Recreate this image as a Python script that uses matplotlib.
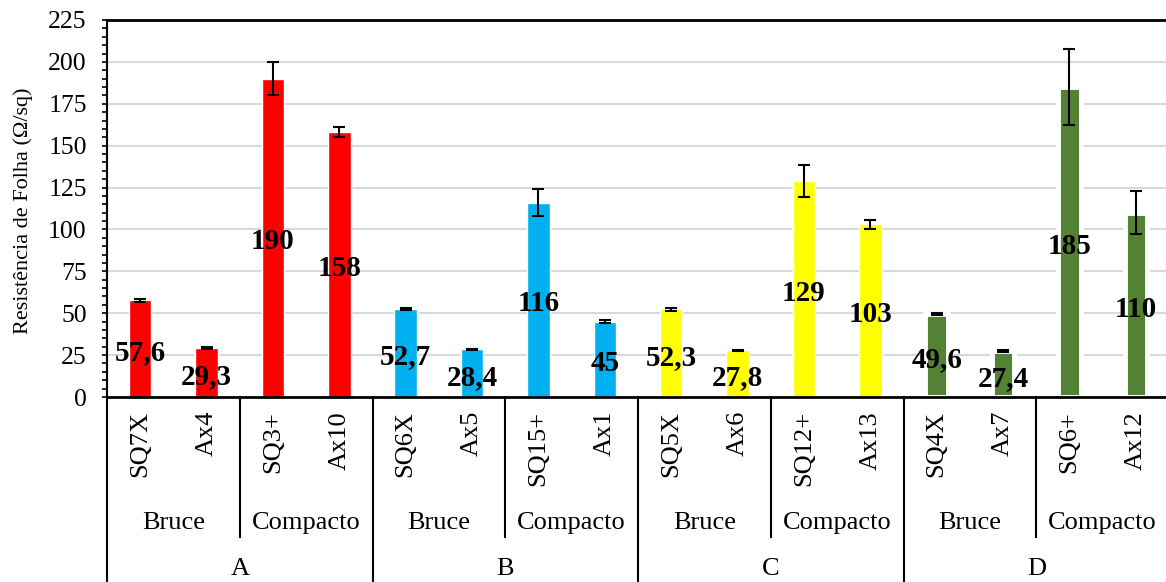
import matplotlib.pyplot as plt
import matplotlib.transforms as mtransforms
from matplotlib.ticker import MultipleLocator

plt.rcParams['font.family'] = ['Liberation Serif', 'DejaVu Serif']

# sheet resistance per sample, grouped by letter and by deposition type
samples = ['SQ7X', 'Ax4', 'SQ3+', 'Ax10',
           'SQ6X', 'Ax5', 'SQ15+', 'Ax1',
           'SQ5X', 'Ax6', 'SQ12+', 'Ax13',
           'SQ4X', 'Ax7', 'SQ6+', 'Ax12']
values = [57.6, 29.3, 190, 158,
          52.7, 28.4, 116, 45,
          52.3, 27.8, 129, 103,
          49.6, 27.4, 185, 110]
errors = [0.8, 0.4, 10, 3,
          0.5, 0.4, 8, 1,
          1.0, 0.4, 9.5, 2.5,
          0.6, 0.6, 22.5, 13]
types = ['Bruce', 'Compacto']
letters = ['A', 'B', 'C', 'D']
letter_colors = ['#FF0000', '#00B0F0', '#FFFF00', '#548235']

W, H = 1166, 582
fig = plt.figure(figsize=(W / 100, H / 100), dpi=100)
ax = fig.add_axes([107 / W, 1 - 397 / H, (1169 - 107) / W, 377 / H])

x = list(range(len(samples)))
colors = [letter_colors[i // 4] for i in x]
edge_w = [3.5 if c == '#548235' else 1 for c in colors]

ax.bar(x, values, width=0.34, color=colors, edgecolor='white',
       linewidth=edge_w, zorder=2)
ax.errorbar(x, values, yerr=errors, fmt='none', ecolor='black',
            elinewidth=1.5, capsize=4.5, capthick=1.5, zorder=3)

for xi, v in zip(x, values):
    txt = f'{v:g}'.replace('.', ',')
    ax.annotate(txt, (xi, v / 2), xytext=(0, -3), textcoords='offset points',
                ha='center', va='center', fontsize=21, fontweight='bold',
                zorder=4)

ax.set_xlim(-0.5, len(samples) - 0.5)
ax.set_ylim(0, 225)
ax.yaxis.set_major_locator(MultipleLocator(25))
ax.yaxis.set_minor_locator(MultipleLocator(5))
ax.tick_params(axis='y', which='both', direction='out', length=3.6,
               width=1.2, labelsize=18.5, pad=11)
ax.set_xticks([])
ax.grid(axis='y', color='#D9D9D9', linewidth=1.5, zorder=0)
ax.set_axisbelow(True)

ax.spines['right'].set_visible(False)
ax.spines['top'].set_linewidth(2)
ax.spines['bottom'].set_linewidth(2)
ax.spines['left'].set_linewidth(1.5)

fig.text(23 / W, 1 - 211 / H, 'Resistência de Folha (Ω/sq)', rotation=90,
         ha='center', va='center', fontsize=16)

# multi-level category axis below the plot
tr = mtransforms.blended_transform_factory(ax.transData, fig.transFigure)
y_axis = 1 - 397 / H
y_mid = 1 - 537 / H

for xi, name in zip(x, samples):
    ax.text(xi, 1 - 411 / H, name, transform=tr, rotation=90,
            ha='center', va='top', fontsize=19, clip_on=False)

for g in range(8):
    ax.text(2 * g + 0.5, 1 - 523 / H, types[g % 2], transform=tr,
            ha='center', va='center', fontsize=19, clip_on=False)
    if g % 2 == 1:
        continue
    ax.plot([2 * g + 1.5] * 2, [y_axis, y_mid], transform=tr,
            color='black', linewidth=1.5, clip_on=False)

for k, letter in enumerate(letters):
    ax.text(4 * k + 1.5, 1 - 569 / H, letter, transform=tr,
            ha='center', va='center', fontsize=19, clip_on=False)
for k in range(len(letters) + 1):
    ax.plot([4 * k - 0.5] * 2, [y_axis, 0], transform=tr,
            color='black', linewidth=1.5, clip_on=False)

fig.savefig('out.png', dpi=100)
